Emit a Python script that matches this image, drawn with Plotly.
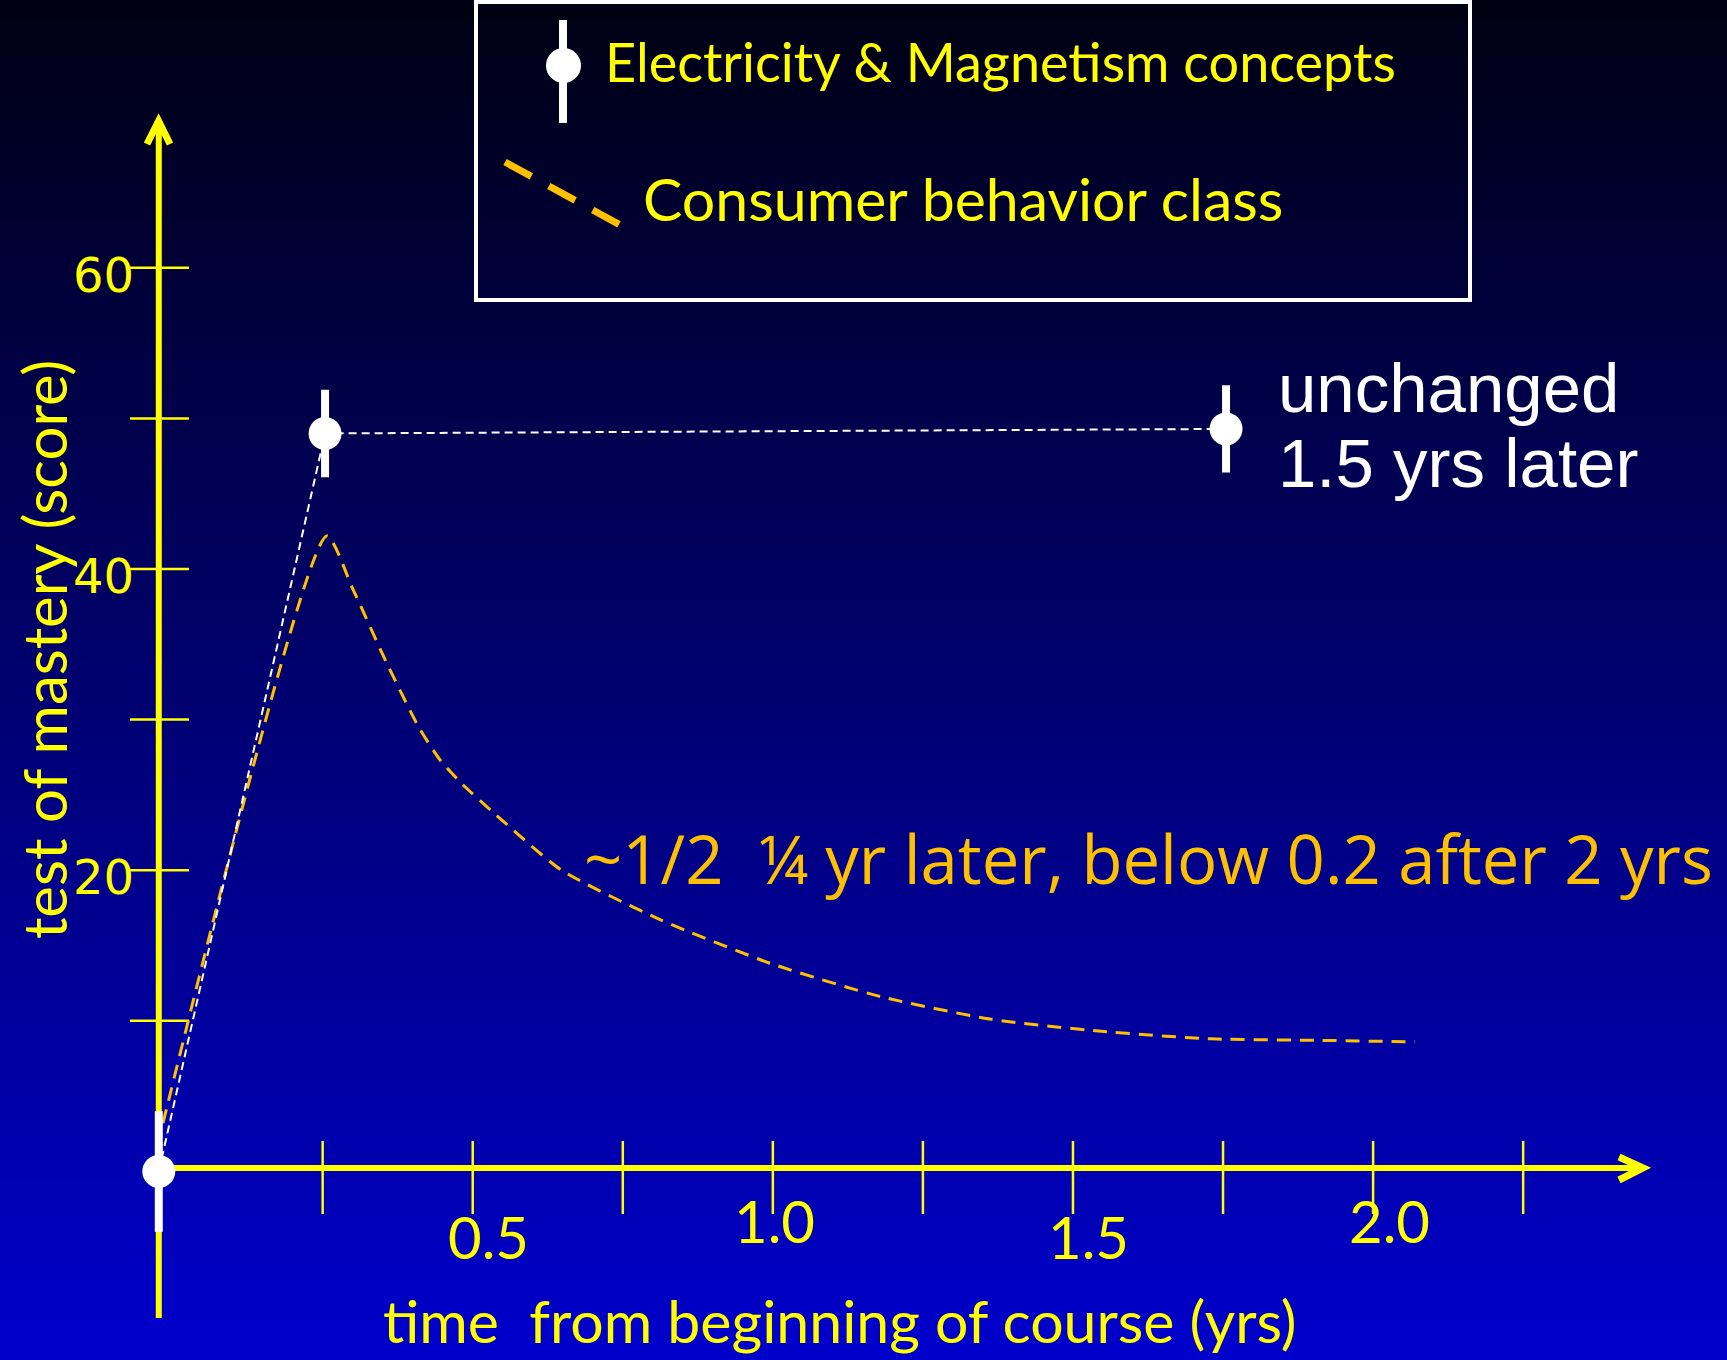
import plotly.graph_objects as go

# ---------------- data ----------------
em_time = [-0.023, 0.254, 1.755]          # years
em_score = [0.0, 49.0, 49.3]
em_err = [4.0, 2.9, 2.9]

cb_time = [-0.016, 0.257, 0.300, 0.355, 0.410, 0.446, 0.483, 0.538, 0.648,
           0.813, 0.997, 1.180, 1.364, 1.547, 1.731, 1.914, 2.070]
cb_score = [3.2, 42.2, 38.7, 33.9, 29.5, 27.3, 25.7, 23.7, 20.0,
            16.7, 13.8, 11.6, 10.1, 9.3, 8.8, 8.7, 8.6]

y_tick_vals = [10, 20, 30, 40, 50, 60]
y_tick_labels = {20: "20", 40: "40", 60: "60"}
x_tick_vals = [0.25, 0.5, 0.75, 1.0, 1.25, 1.5, 1.75, 2.0, 2.25]
x_tick_labels = ["0.5", "1.0", "1.5", "2.0"]

legend_names = ["Electricity & Magnetism concepts", "Consumer behavior class"]

W, H = 1727, 1360
YELLOW = "#FFFF00"
ORANGE = "#FFC000"
WHITE = "#FFFFFF"

# pixel <-> data mapping (layout only)
X0PX, XS = 172.6, 600.25
Y0PX, YS = 1171.4, 15.06
xr = [(0 - X0PX) / XS, (W - X0PX) / XS]
yr = [(Y0PX - H) / YS, (Y0PX - 0) / YS]


def dx(px):
    return (px - X0PX) / XS


def dy(py):
    return (Y0PX - py) / YS


def px_(p):
    return p / W


def py_(p):
    return 1 - p / H


fig = go.Figure()

fig.add_trace(go.Scatter(
    x=cb_time, y=cb_score, mode="lines", name=legend_names[1],
    line=dict(color=ORANGE, width=3, dash="14px,9px", shape="spline", smoothing=0.6),
    showlegend=False,
))
fig.add_trace(go.Scatter(
    x=em_time, y=em_score, mode="lines+markers", name=legend_names[0],
    line=dict(color=WHITE, width=2, dash="8px,5px"),
    marker=dict(color=WHITE, size=33, line=dict(width=0)),
    error_y=dict(type="data", array=em_err, color=WHITE, thickness=8, width=0),
    showlegend=False,
))

shapes = []
# background gradient
N = 68
for i in range(N):
    t = (i + 0.5) / N
    b = int(round(18 + (204 - 18) * t))
    shapes.append(dict(type="rect", xref="paper", yref="paper",
                       x0=0, x1=1, y0=1 - (i + 1) / N - 0.001, y1=1 - i / N,
                       fillcolor=f"rgb(0,0,{b})", line=dict(width=0), layer="below"))

axis_x = -0.023
# y axis line + arrow
shapes.append(dict(type="line", x0=axis_x, x1=axis_x, y0=dy(1318), y1=dy(123),
                   line=dict(color=YELLOW, width=6), layer="below"))
shapes.append(dict(type="path", path=f"M {dx(147)},{dy(144)} L {dx(158.6)},{dy(121)} L {dx(170)},{dy(144)}",
                   line=dict(color=YELLOW, width=7), layer="below"))
# x axis line + arrow
shapes.append(dict(type="line", x0=axis_x, x1=dx(1640), y0=dy(1168), y1=dy(1168),
                   line=dict(color=YELLOW, width=6), layer="below"))
shapes.append(dict(type="path", path=f"M {dx(1619)},{dy(1157)} L {dx(1643)},{dy(1168)} L {dx(1619)},{dy(1180)}",
                   line=dict(color=YELLOW, width=7), layer="below"))
# y ticks
for v in y_tick_vals:
    shapes.append(dict(type="line", x0=dx(130), x1=dx(189), y0=v, y1=v,
                       line=dict(color=YELLOW, width=2.5), layer="below"))
# x ticks
for v in x_tick_vals:
    shapes.append(dict(type="line", x0=v, x1=v, y0=dy(1141), y1=dy(1214),
                       line=dict(color=YELLOW, width=2.5), layer="below"))

# legend box
shapes.append(dict(type="rect", xref="paper", yref="paper",
                   x0=px_(476), x1=px_(1470), y0=py_(300), y1=py_(2),
                   line=dict(color=WHITE, width=4)))
# legend glyph: error-bar marker
shapes.append(dict(type="line", xref="paper", yref="paper",
                   x0=px_(563), x1=px_(563), y0=py_(20), y1=py_(123),
                   line=dict(color=WHITE, width=8)))
shapes.append(dict(type="circle", xref="paper", yref="paper",
                   x0=px_(546), x1=px_(581), y0=py_(83), y1=py_(48),
                   fillcolor=WHITE, line=dict(width=0)))
# legend glyph: dashed orange
shapes.append(dict(type="line", xref="paper", yref="paper",
                   x0=px_(505), x1=px_(631), y0=py_(162), y1=py_(231),
                   line=dict(color=ORANGE, width=7, dash="30px,20px")))

fig.update_layout(shapes=shapes)

ann = []
# y tick labels
for v, lab in y_tick_labels.items():
    ann.append(dict(x=px_(136), y=py_(Y0PX - v * YS + 7), xref="paper", yref="paper",
                    text=lab, showarrow=False, xanchor="right", yanchor="middle",
                    font=dict(family="DejaVu Sans", size=48, color=YELLOW)))
# x tick labels (staggered like the original)
x_lab_pos = [(488, 1236), (774, 1220), (1088, 1236), (1389, 1220)]
for lab, (x, y) in zip(x_tick_labels, x_lab_pos):
    ann.append(dict(x=px_(x), y=py_(y), xref="paper", yref="paper",
                    text=lab, showarrow=False, xanchor="center", yanchor="middle",
                    font=dict(family="Lato", size=58, color=YELLOW)))
# axis titles
ann.append(dict(x=px_(839), y=py_(1320), xref="paper", yref="paper",
                text="time  from beginning of course (yrs)", showarrow=False,
                xanchor="center", yanchor="middle",
                font=dict(family="Lato", size=59, color=YELLOW)))
ann.append(dict(x=px_(44), y=py_(650), xref="paper", yref="paper",
                text="test of mastery (score)", showarrow=False, textangle=-90,
                xanchor="center", yanchor="middle",
                font=dict(family="Lato", size=60, color=YELLOW)))
# legend labels
ann.append(dict(x=px_(603), y=py_(62), xref="paper", yref="paper",
                text=legend_names[0], showarrow=False, xanchor="left", yanchor="middle",
                font=dict(family="Lato", size=54, color=YELLOW)))
ann.append(dict(x=px_(641), y=py_(198), xref="paper", yref="paper",
                text=legend_names[1], showarrow=False, xanchor="left", yanchor="middle",
                font=dict(family="Lato", size=59, color=YELLOW)))
# white note
ann.append(dict(x=px_(1276), y=py_(388), xref="paper", yref="paper",
                text="unchanged", showarrow=False, xanchor="left", yanchor="middle",
                font=dict(family="Liberation Sans", size=69, color=WHITE)))
ann.append(dict(x=px_(1276), y=py_(463), xref="paper", yref="paper",
                text="1.5 yrs later", showarrow=False, xanchor="left", yanchor="middle",
                font=dict(family="Liberation Sans", size=69, color=WHITE)))
# orange note
ann.append(dict(x=px_(582), y=py_(858), xref="paper", yref="paper",
                text="~1/2  ¼ yr later, below 0.2 after 2 yrs", showarrow=False,
                xanchor="left", yanchor="middle",
                font=dict(family="Open Sans", size=67, color=ORANGE)))

fig.update_layout(
    annotations=ann,
    width=W, height=H,
    margin=dict(l=0, r=0, t=0, b=0),
    paper_bgcolor="rgb(0,0,110)",
    plot_bgcolor="rgba(0,0,0,0)",
    xaxis=dict(range=xr, visible=False, fixedrange=True),
    yaxis=dict(range=yr, visible=False, fixedrange=True),
    showlegend=False,
)

fig.write_html("out.html", config={"displayModeBar": False},
               post_script="document.body.style.margin='0';document.body.style.overflow='hidden';")
